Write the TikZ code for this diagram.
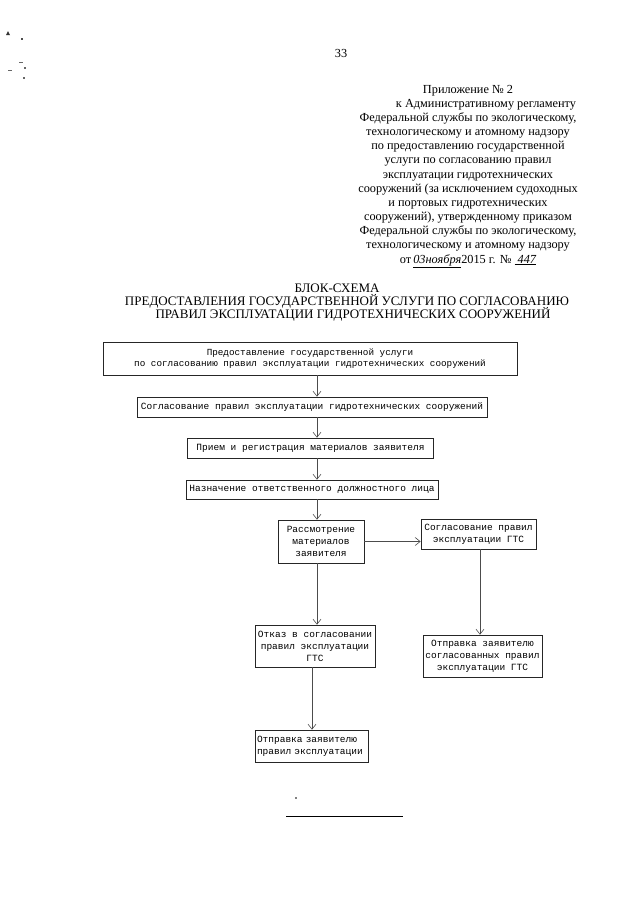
\documentclass[tikz,border=0pt]{standalone}
\usepackage{fontspec}
\setmainfont{Liberation Serif}
\newfontfamily\monofam{Liberation Mono}
\usetikzlibrary{arrows.meta}
\begin{document}
\begin{tikzpicture}[x=1pt,y=-1pt,
  hdr/.style={anchor=base,inner sep=0pt,font=\fontsize{12.3}{14}\selectfont},
  ttl/.style={anchor=base,inner sep=0pt,font=\fontsize{13}{14}\selectfont},
  stepbox/.style={draw=black!85,line width=0.7pt,inner sep=1.5pt,align=center,
    font=\monofam\fontsize{9.5}{12}\selectfont},
  conn/.style={draw=black!70,line width=0.6pt,-{Straight Barb[length=5pt,width=8pt,line width=0.6pt]}}]
\useasboundingbox[fill=white] (0,0) rectangle (640,905);
% scan specks
\fill[black!80] (6,35) -- (8,31) -- (10,35) -- cycle;
\fill[black!70] (20.5,37.5) rectangle (22.5,40);
\fill[black!60] (19,61.5) rectangle (23,63);
\fill[black!60] (8,69.5) rectangle (12,70.5);
\fill[black!60] (24,67) rectangle (25.5,68.5);
\fill[black!60] (22.5,77) rectangle (24.5,79);
% page number
\node[hdr] (pg) at (341,57) {33};
% header
\node[hdr] (h1) at (468,93) {Приложение № 2};
\node[hdr] (h2) at (486,107.2) {к Административному регламенту};
\node[hdr] (h3) at (468,121.3) {Федеральной службы по экологическому,};
\node[hdr] (h4) at (468,135.5) {технологическому и атомному надзору};
\node[hdr] (h5) at (468,149.7) {по предоставлению государственной};
\node[hdr] (h6) at (468,163.8) {услуги по согласованию правил};
\node[hdr] (h7) at (468,178) {эксплуатации гидротехнических};
\node[hdr] (h8) at (468,192.2) {сооружений (за исключением судоходных};
\node[hdr] (h9) at (468,206.4) {и портовых гидротехнических};
\node[hdr] (h10) at (468,220.5) {сооружений), утвержденному приказом};
\node[hdr] (h11) at (468,234.7) {Федеральной службы по экологическому,};
\node[hdr] (h12) at (468,248.9) {технологическому и атомному надзору};
\node[hdr] (h13) at (468,263) {от\,\underline{\itshape 03ноября}2015 г. № \underline{\itshape\ 447}};
% title
\node[ttl] (t1) at (337,292) {БЛОК-СХЕМА};
\node[ttl] (t2) at (347,305) {ПРЕДОСТАВЛЕНИЯ ГОСУДАРСТВЕННОЙ УСЛУГИ ПО СОГЛАСОВАНИЮ};
\node[ttl] (t3) at (353,318) {ПРАВИЛ ЭКСПЛУАТАЦИИ ГИДРОТЕХНИЧЕСКИХ СООРУЖЕНИЙ};
% boxes
\node[stepbox,minimum width=414pt,minimum height=33pt,font=\monofam\fontsize{9.3}{10.5}\selectfont] (b1) at (310,358.5)
  {Предоставление государственной услуги\\по согласованию правил эксплуатации гидротехнических сооружений};
\node[stepbox,minimum width=350pt,minimum height=20pt] (b2) at (312,407)
  {Согласование правил эксплуатации гидротехнических сооружений};
\node[stepbox,minimum width=246pt,minimum height=20pt] (b3) at (310.5,448)
  {Прием и регистрация материалов заявителя};
\node[stepbox,minimum width=252pt,minimum height=19pt] (b4) at (312,489.5)
  {Назначение ответственного должностного лица};
\node[stepbox,minimum width=86pt,minimum height=43pt] (b5) at (321,541.5)
  {Рассмотрение\\материалов\\заявителя};
\node[stepbox,minimum width=115pt,minimum height=30pt] (b6) at (478.5,534)
  {Согласование правил\\эксплуатации ГТС};
\node[stepbox,minimum width=119pt,minimum height=42pt] (b7) at (482.5,656)
  {Отправка заявителю\\согласованных правил\\эксплуатации ГТС};
\node[stepbox,minimum width=120pt,minimum height=42pt] (b8) at (315,646)
  {Отказ в согласовании\\правил эксплуатации\\ГТС};
\node[stepbox,minimum width=113pt,minimum height=32pt,align=left,text width=109pt] (b9) at (311.5,746)
  {Отправка заявителю\\правил эксплуатации};
% connectors
\coordinate (ax) at (317,0);
\draw[conn] (b1.south -| ax) -- (b2.north -| ax);
\draw[conn] (b2.south -| ax) -- (b3.north -| ax);
\draw[conn] (b3.south -| ax) -- (b4.north -| ax);
\draw[conn] (b4.south -| ax) -- (b5.north -| ax);
\draw[conn] (b5.east) -- (b5.east -| b6.west);
\draw[conn] (b5.south -| ax) -- (b8.north -| ax);
\coordinate (bx) at (480,0);
\draw[conn] (b6.south -| bx) -- (b7.north -| bx);
\coordinate (cx) at (312,0);
\draw[conn] (b8.south -| cx) -- (b9.north -| cx);
% bottom marks
\fill[black] (296,798) circle (0.9pt);
\coordinate (l1) at (286,816);
\coordinate (l2) at (403,816);
\draw[line width=0.8pt] (l1) -- (l2);
\end{tikzpicture}
\end{document}
